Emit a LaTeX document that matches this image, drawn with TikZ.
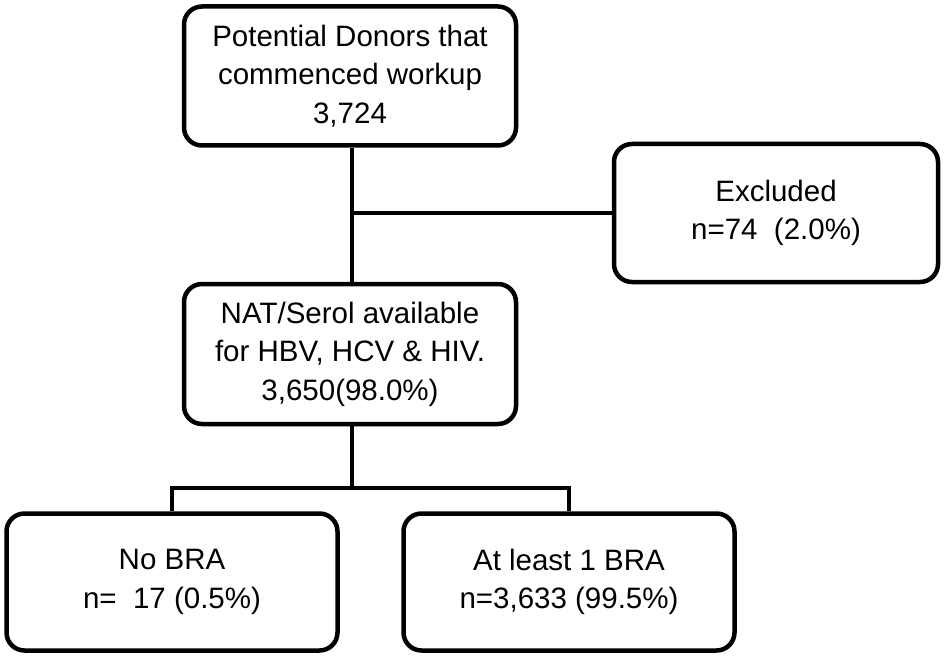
\documentclass[tikz,border=0pt]{standalone}
\usepackage{fontspec}
\setmainfont{Liberation Sans}
\begin{document}
\begin{tikzpicture}[x=1pt,y=-1pt,
  box/.style={draw,line width=4.5pt,rounded corners=18pt,align=center,font=\fontsize{29.5}{38.5}\selectfont,inner sep=0pt},
  conn/.style={line width=4.5pt}]
\useasboundingbox (0,0) rectangle (949,655);
\node[box,minimum width=332pt,minimum height=139pt] (top) at (350,76) {Potential Donors that\\commenced workup\\3,724};
\node[box,minimum width=324pt,minimum height=138pt] (exc) at (776,213) {Excluded\\n=74~~(2.0\%)};
\node[box,minimum width=332pt,minimum height=140pt] (mid) at (350,354) {NAT/Serol available\\for HBV, HCV \& HIV.\\3,650(98.0\%)};
\node[box,minimum width=331pt,minimum height=137pt] (bl) at (172,582) {No BRA\\n=~~17 (0.5\%)};
\node[box,minimum width=331pt,minimum height=137pt] (br) at (569,582) {At least 1 BRA\\n=3,633 (99.5\%)};
\coordinate (j1) at (352,213);
\coordinate (j2) at (352,488);
\draw[conn] (top.south -| j1) -- (mid.north -| j1);
\draw[conn] (j1) -- (exc.west);
\draw[conn] (mid.south -| j2) -- (j2);
\draw[conn] (bl.north) |- (j2) -| (br.north);
\end{tikzpicture}
\end{document}
